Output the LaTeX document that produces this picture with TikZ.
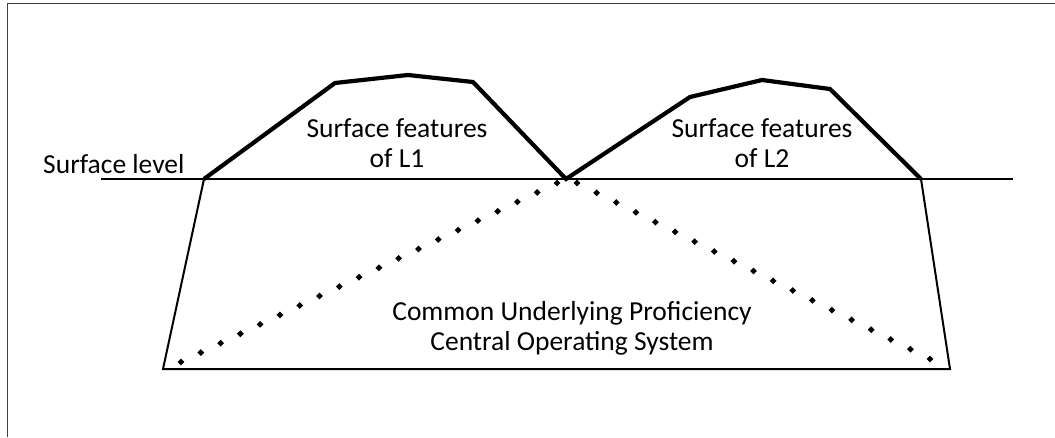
\documentclass[tikz,border=0pt]{standalone}
\usepackage{fontspec}
\setmainfont{Carlito}
\begin{document}
\begin{tikzpicture}[x=1pt,y=-1pt,
  frameline/.style={draw=black!75,line width=1pt},
  levelline/.style={draw=black,line width=2pt},
  hill/.style={draw=black,line width=4.2pt,line join=miter},
  trap/.style={draw=black,line width=2pt},
  lbl/.style={font=\fontsize{27.5}{29.5}\selectfont,inner sep=0pt,align=center,anchor=base}]
\useasboundingbox (0,0) rectangle (1055,437);
% frame
\draw[frameline] (7,437) -- (7,3) -- (1055,3);
% key points
\coordinate (sl) at (101,179);
\coordinate (sr) at (1013,179);
\coordinate (a) at (204,179);
\coordinate (m) at (566,179);
\coordinate (b) at (921,179);
\coordinate (bl) at (163,369);
\coordinate (br) at (950,369);
\coordinate (h1) at (335,83);
\coordinate (h2) at (408,75);
\coordinate (h3) at (473,82);
\coordinate (k1) at (690,97);
\coordinate (k2) at (762,80);
\coordinate (k3) at (830,89);
% surface level
\draw[levelline] (sl) -- (sr);
% trapezoid
\draw[trap] (a) -- (bl) -- (br) -- (b);
% hills
\draw[hill] (a) -- (h1) -- (h2) -- (h3) -- (m) -- (k1) -- (k2) -- (k3) -- (b);
% dotted lines
\foreach \i in {0,...,19}{
  \pgfmathsetmacro{\px}{557-\i*376/19}
  \pgfmathsetmacro{\py}{183+\i*179/19}
  \fill[black] (\px,\py-3.4) -- (\px+3.4,\py) -- (\px,\py+3.4) -- (\px-3.4,\py) -- cycle;
}
\foreach \i in {0,...,18}{
  \pgfmathsetmacro{\px}{577+\i*353/18}
  \pgfmathsetmacro{\py}{183+\i*176/18}
  \fill[black] (\px,\py-3.4) -- (\px+3.4,\py) -- (\px,\py+3.4) -- (\px-3.4,\py) -- cycle;
}
% labels
\node[lbl,anchor=base west] (t0) at (43,173) {Surface level};
\node[lbl] (t1) at (397,167) {Surface features\\of L1};
\node[lbl] (t2) at (762,167) {Surface features\\of L2};
\node[lbl] (t3) at (572,350) {Common Underlying Proficiency\\Central Operating System};
\end{tikzpicture}
\end{document}
